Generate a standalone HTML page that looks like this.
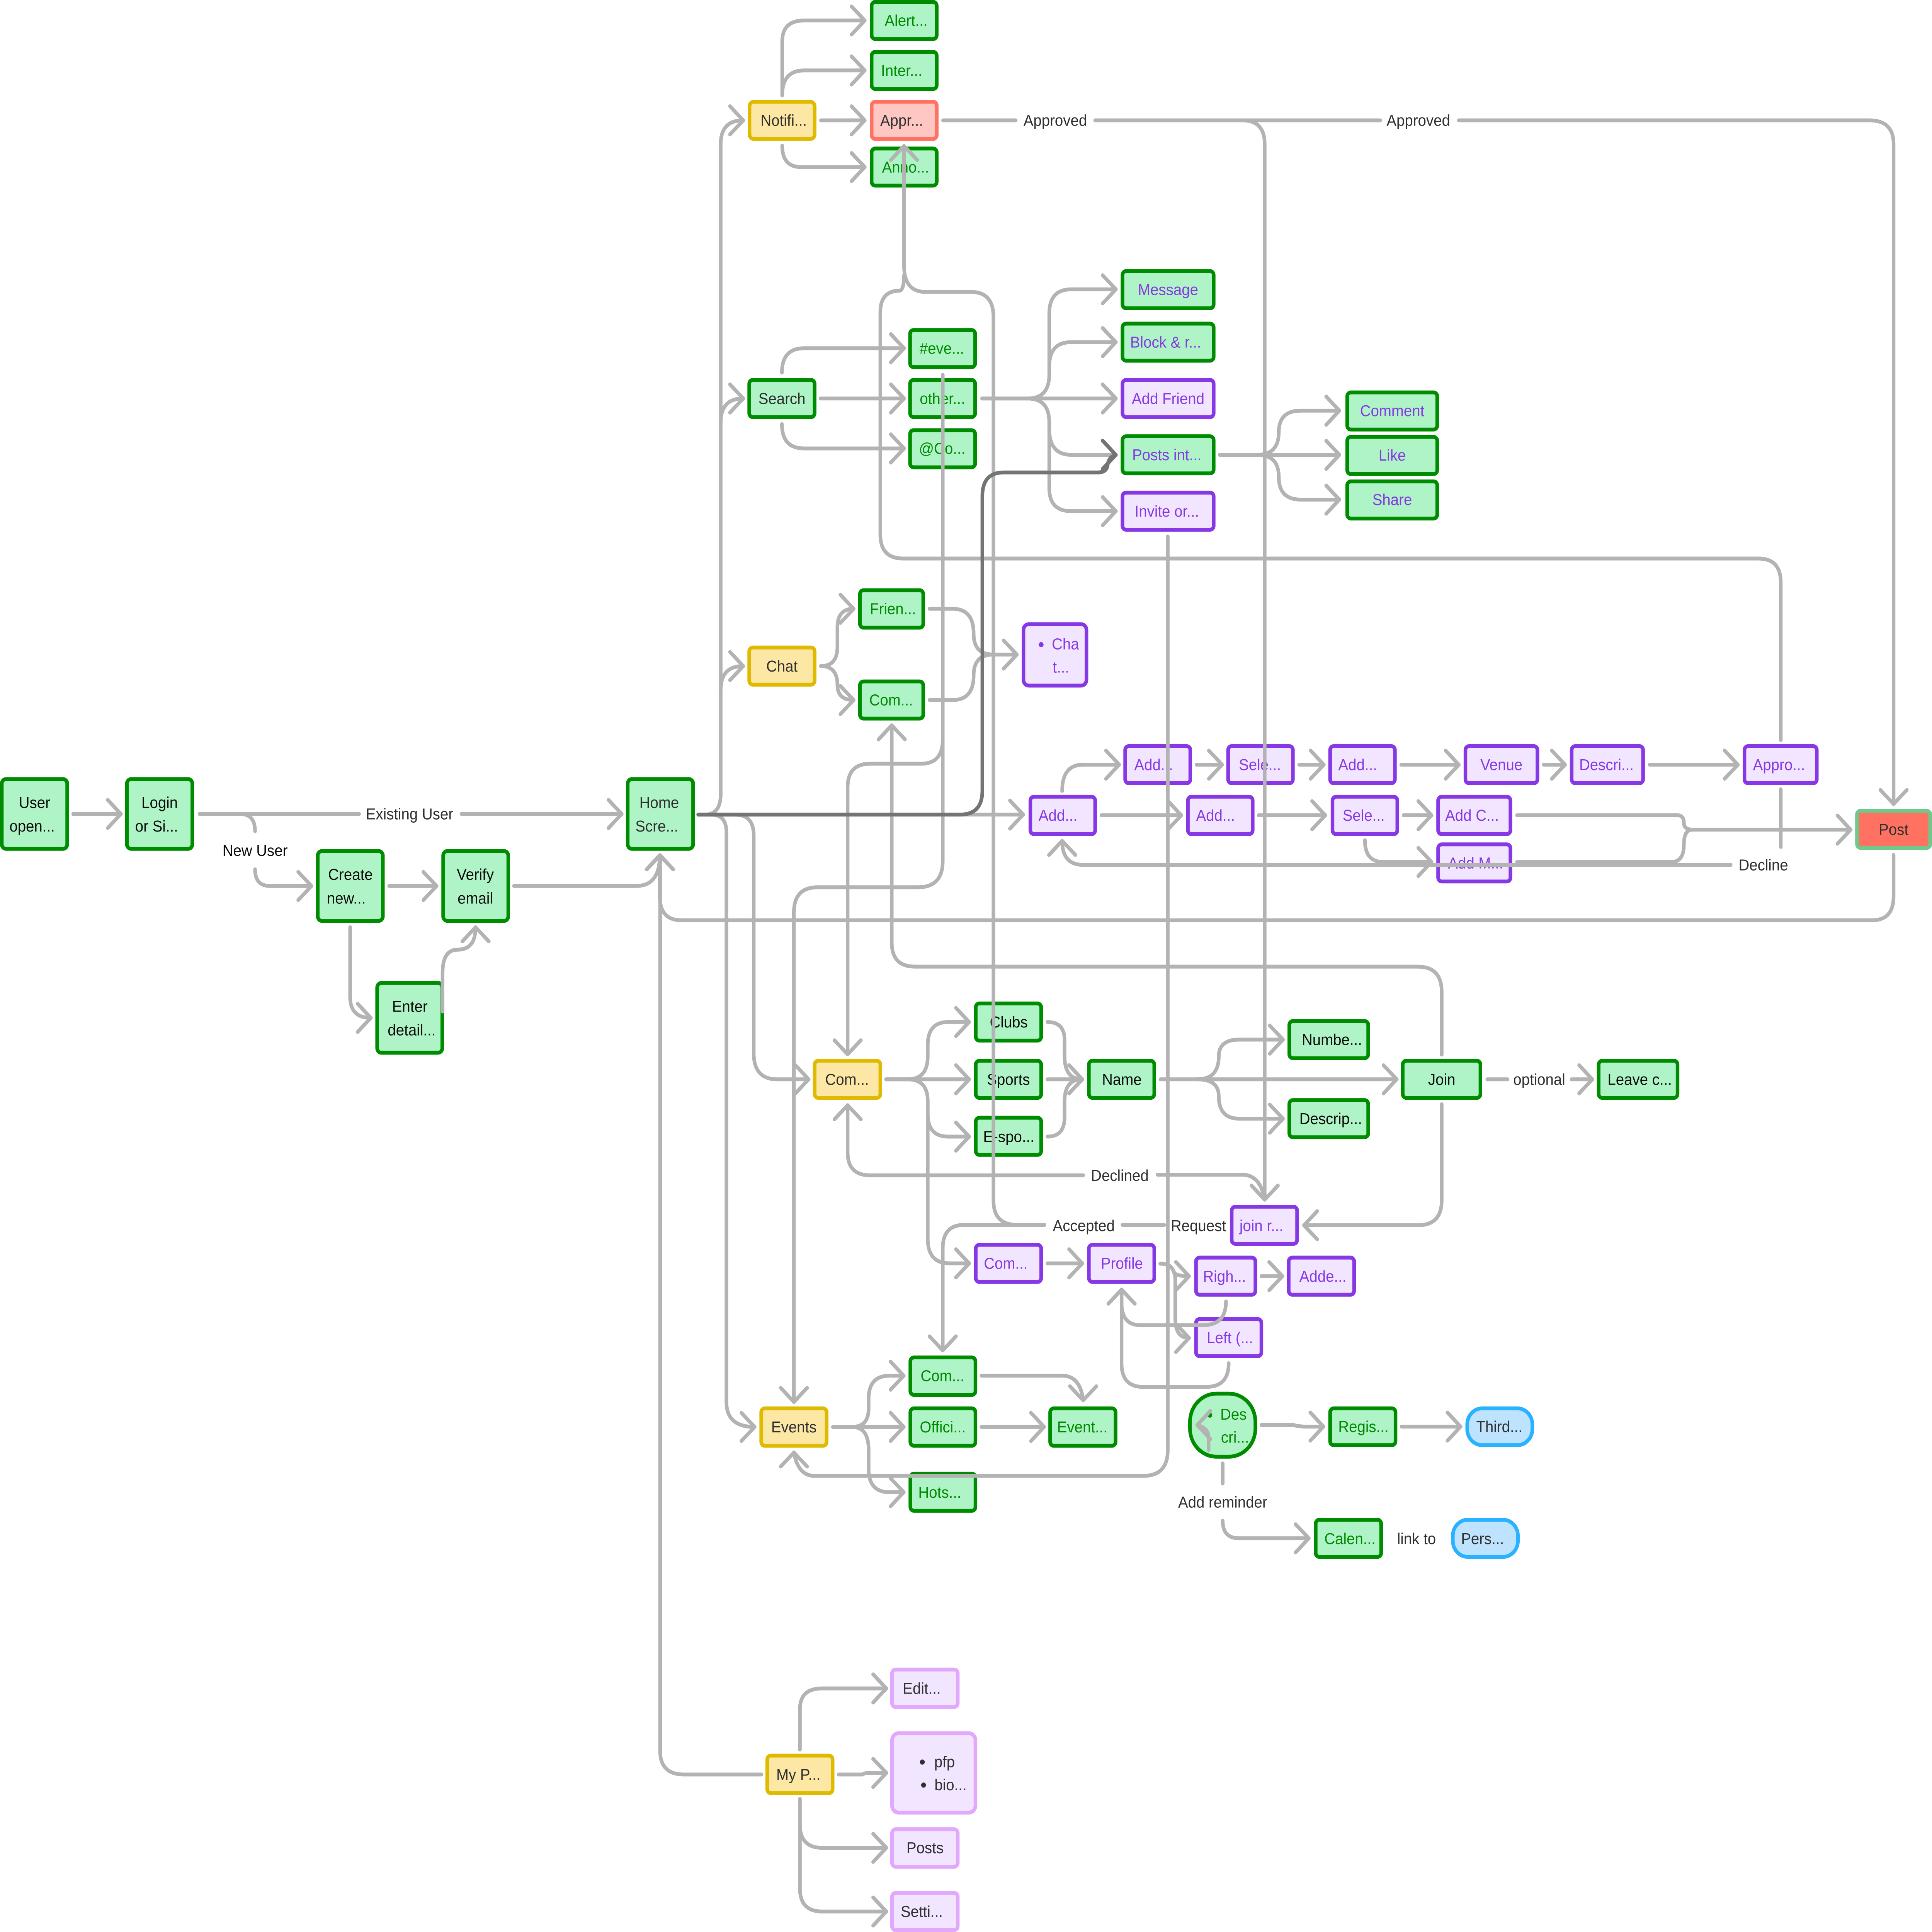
<!DOCTYPE html>
<html><head><meta charset="utf-8"><style>
html,body{margin:0;padding:0;background:#fff;width:100%;height:100%;overflow:hidden}
svg{display:block;width:100vw;height:100vh}
text{font-family:"Liberation Sans",sans-serif;font-size:49.5px;text-anchor:middle}
.t{fill:#2f2f2f}.k{fill:#0b0b0b}.gt{fill:#008a00}.pt{fill:#8638e5}
rect{stroke-width:12}
.g{fill:#aff4c6;stroke:#008c00}.y{fill:#fde7a4;stroke:#dfba00}.p{fill:#f1e5ff;stroke:#8638e5}.q{fill:#f1e5ff;stroke:#e2a8fd}
.r{fill:#ffc7c2;stroke:#ff7262}.b{fill:#bde3ff;stroke:#29b2ff}.o{fill:#ff7262;stroke:#6fc98a}
.c path{fill:none;stroke:#b3b3b3;stroke-width:12;stroke-linecap:round;stroke-linejoin:round}
.c path.mr{marker-end:url(#r)}.c path.md{marker-end:url(#d)}.c path.ml{marker-end:url(#l)}.c path.mu{marker-end:url(#u)}
</style></head><body>
<svg xmlns="http://www.w3.org/2000/svg" viewBox="0 0 6439 6036" preserveAspectRatio="none">
<defs>
<marker id="r" markerUnits="userSpaceOnUse" markerWidth="130" markerHeight="130" viewBox="-65 -65 130 130" refX="0" refY="0" orient="0"><path d="M-44,-44L0,0L-44,44" fill="none" stroke="#b3b3b3" stroke-width="12" stroke-linecap="round" stroke-linejoin="round"/></marker>
<marker id="d" markerUnits="userSpaceOnUse" markerWidth="130" markerHeight="130" viewBox="-65 -65 130 130" refX="0" refY="0" orient="90"><path d="M-44,-44L0,0L-44,44" fill="none" stroke="#b3b3b3" stroke-width="12" stroke-linecap="round" stroke-linejoin="round"/></marker>
<marker id="l" markerUnits="userSpaceOnUse" markerWidth="130" markerHeight="130" viewBox="-65 -65 130 130" refX="0" refY="0" orient="180"><path d="M-44,-44L0,0L-44,44" fill="none" stroke="#b3b3b3" stroke-width="12" stroke-linecap="round" stroke-linejoin="round"/></marker>
<marker id="u" markerUnits="userSpaceOnUse" markerWidth="130" markerHeight="130" viewBox="-65 -65 130 130" refX="0" refY="0" orient="270"><path d="M-44,-44L0,0L-44,44" fill="none" stroke="#b3b3b3" stroke-width="12" stroke-linecap="round" stroke-linejoin="round"/></marker>
<marker id="dk" markerUnits="userSpaceOnUse" markerWidth="130" markerHeight="130" viewBox="-65 -65 130 130" refX="0" refY="0" orient="0"><path d="M-44,-44L0,0L-44,44" fill="none" stroke="#727571" stroke-width="12" stroke-linecap="round" stroke-linejoin="round"/></marker>
</defs>
<rect x="0" y="0" width="6439" height="6036" style="fill:#fff;stroke:none"/>

<!-- nodes -->
<g>
<rect class="g" x="6" y="2434" width="218" height="218" rx="14"/>
<rect class="g" x="423" y="2434" width="218" height="218" rx="14"/>
<rect class="g" x="1059" y="2659" width="217" height="218" rx="14"/>
<rect class="g" x="1477" y="2659" width="217" height="218" rx="14"/>
<rect class="g" x="1257" y="3071" width="217" height="218" rx="14"/>
<rect class="g" x="2092" y="2434" width="218" height="218" rx="14"/>

<rect class="y" x="2498" y="318" width="217" height="116" rx="14"/>
<rect class="g" x="2905" y="6" width="217" height="116" rx="12"/>
<rect class="g" x="2905" y="162" width="217" height="116" rx="12"/>
<rect class="r" x="2905" y="318" width="217" height="116" rx="12"/>
<rect class="g" x="2905" y="464" width="217" height="116" rx="12"/>

<rect class="g" x="3741" y="847" width="304" height="116" rx="12"/>
<rect class="g" x="3741" y="1011" width="304" height="116" rx="12"/>
<rect class="p" x="3741" y="1187" width="304" height="116" rx="12"/>
<rect class="g" x="3741" y="1363" width="304" height="116" rx="12"/>
<rect class="p" x="3741" y="1539" width="304" height="116" rx="12"/>
<rect class="g" x="4490" y="1226" width="300" height="116" rx="12"/>
<rect class="g" x="4490" y="1365" width="300" height="116" rx="12"/>
<rect class="g" x="4490" y="1504" width="300" height="116" rx="12"/>

<rect class="g" x="2497" y="1187" width="218" height="116" rx="12"/>
<rect class="g" x="3033" y="1031" width="217" height="116" rx="12"/>
<rect class="g" x="3033" y="1187" width="217" height="116" rx="12"/>
<rect class="g" x="3033" y="1344" width="217" height="116" rx="12"/>

<rect class="y" x="2497" y="2023" width="218" height="116" rx="12"/>
<rect class="g" x="2866" y="1844" width="211" height="117" rx="12"/>
<rect class="g" x="2866" y="2129" width="211" height="116" rx="12"/>
<rect class="p" x="3411" y="1950" width="210" height="192" rx="18"/>

<rect class="p" x="3750" y="2331" width="217" height="116" rx="12"/>
<rect class="p" x="4093" y="2331" width="216" height="116" rx="12"/>
<rect class="p" x="4433" y="2331" width="216" height="116" rx="12"/>
<rect class="p" x="4884" y="2331" width="240" height="116" rx="12"/>
<rect class="p" x="5238" y="2331" width="238" height="116" rx="12"/>
<rect class="p" x="5814" y="2331" width="241" height="116" rx="12"/>
<rect class="p" x="3434" y="2489" width="216" height="117" rx="12"/>
<rect class="p" x="3959" y="2489" width="216" height="117" rx="12"/>
<rect class="p" x="4441" y="2489" width="216" height="117" rx="12"/>
<rect class="p" x="4793" y="2489" width="241" height="117" rx="12"/>
<rect class="p" x="4793" y="2638" width="241" height="116" rx="12"/>
<rect class="o" x="6189" y="2533" width="244" height="116" rx="12"/>

<rect class="y" x="2715" y="3314" width="219" height="116" rx="12"/>
<rect class="g" x="3252" y="3135" width="218" height="116" rx="12"/>
<rect class="g" x="3252" y="3314" width="218" height="116" rx="12"/>
<rect class="g" x="3252" y="3492" width="218" height="116" rx="12"/>
<rect class="g" x="3629" y="3314" width="218" height="116" rx="12"/>
<rect class="g" x="4297" y="3190" width="263" height="116" rx="12"/>
<rect class="g" x="4675" y="3314" width="259" height="116" rx="12"/>
<rect class="g" x="4297" y="3437" width="263" height="116" rx="12"/>
<rect class="g" x="5328" y="3314" width="263" height="116" rx="12"/>

<rect class="p" x="3252" y="3889" width="218" height="116" rx="12"/>
<rect class="p" x="3629" y="3889" width="218" height="116" rx="12"/>
<rect class="p" x="4105" y="3770" width="218" height="116" rx="12"/>
<rect class="p" x="3986" y="3929" width="198" height="116" rx="12"/>
<rect class="p" x="4295" y="3929" width="218" height="116" rx="12"/>
<rect class="p" x="3986" y="4121" width="218" height="116" rx="12"/>

<rect class="g" x="3034" y="4241" width="217" height="117" rx="12"/>
<rect class="g" x="3034" y="4400" width="217" height="117" rx="12"/>
<rect class="g" x="3034" y="4604" width="217" height="116" rx="12"/>
<rect class="y" x="2537" y="4400" width="218" height="117" rx="12"/>
<rect class="g" x="3500" y="4400" width="218" height="117" rx="12"/>

<rect class="g" x="3966" y="4354" width="218" height="197" rx="88"/>
<rect class="g" x="4433" y="4400" width="218" height="115" rx="12"/>
<rect class="b" x="4890" y="4400" width="217" height="115" rx="50"/>
<rect class="g" x="4385" y="4748" width="218" height="116" rx="12"/>
<rect class="b" x="4842" y="4748" width="217" height="116" rx="50"/>

<rect class="y" x="2557" y="5485" width="218" height="117" rx="12"/>
<rect class="q" x="2973" y="5216" width="219" height="117" rx="12"/>
<rect class="q" x="2973" y="5415" width="278" height="248" rx="22"/>
<rect class="q" x="2973" y="5715" width="219" height="117" rx="12"/>
<rect class="q" x="2973" y="5914" width="219" height="116" rx="12"/>
</g>

<!-- text -->
<g>
<text class="k" x="115" y="2524">User</text><text class="k" x="107" y="2598">open...</text>
<text class="k" x="532" y="2524">Login</text><text class="k" x="522" y="2598">or Si...</text>
<text class="k" x="1168" y="2749">Create</text><text class="k" x="1154" y="2823">new...</text>
<text class="k" x="1584" y="2749">Verify</text><text class="k" x="1584" y="2823">email</text>
<text class="k" x="1366" y="3161">Enter</text><text class="k" x="1372" y="3235">detail...</text>
<text class="t" x="2197" y="2524">Home</text><text class="t" x="2189" y="2598">Scre...</text>
<text class="t" x="1365" y="2560">Existing User</text>
<text class="k" x="850" y="2674">New User</text>

<text class="t" x="2612" y="393">Notifi...</text>
<text class="gt" x="3020" y="81">Alert...</text>
<text class="gt" x="3005" y="237">Inter...</text>
<text class="t" x="3005" y="393">Appr...</text>
<text class="gt" x="3018" y="539">Anno...</text>
<text class="t" x="3517" y="393">Approved</text>
<text class="t" x="4727" y="393">Approved</text>

<text class="pt" x="3893" y="922">Message</text>
<text class="pt" x="3885" y="1086">Block &amp; r...</text>
<text class="pt" x="3893" y="1262">Add Friend</text>
<text class="pt" x="3889" y="1438">Posts int...</text>
<text class="pt" x="3889" y="1614">Invite or...</text>
<text class="pt" x="4640" y="1300">Comment</text>
<text class="pt" x="4640" y="1439">Like</text>
<text class="pt" x="4640" y="1578">Share</text>

<text class="t" x="2606" y="1262">Search</text>
<text class="gt" x="3139" y="1105">#eve...</text>
<text class="gt" x="3141" y="1262">other...</text>
<text class="gt" x="3140" y="1418">@Co...</text>

<text class="t" x="2606" y="2098">Chat</text>
<text class="gt" x="2976" y="1919">Frien...</text>
<text class="gt" x="2970" y="2204">Com...</text>
<circle cx="3470" cy="2014" r="8" fill="#8638e5"/>
<text class="pt" x="3551" y="2029">Cha</text><text class="pt" x="3536" y="2101">t...</text>

<text class="pt" x="3845" y="2406">Add...</text>
<text class="pt" x="4199" y="2406">Sele...</text>
<text class="pt" x="4525" y="2406">Add...</text>
<text class="pt" x="5004" y="2406">Venue</text>
<text class="pt" x="5354" y="2406">Descri...</text>
<text class="pt" x="5929" y="2406">Appro...</text>
<text class="pt" x="3526" y="2564">Add...</text>
<text class="pt" x="4051" y="2564">Add...</text>
<text class="pt" x="4545" y="2564">Sele...</text>
<text class="pt" x="4906" y="2564">Add C...</text>
<text class="pt" x="4918" y="2713">Add M...</text>
<text class="t" x="6311" y="2608">Post</text>
<text class="t" x="5877" y="2719">Decline</text>

<text class="t" x="2823" y="3389">Com...</text>
<text class="k" x="3362" y="3210">Clubs</text>
<text class="k" x="3361" y="3389">Sports</text>
<text class="k" x="3362" y="3568">E-spo...</text>
<text class="k" x="3739" y="3389">Name</text>
<text class="k" x="4439" y="3265">Numbe...</text>
<text class="k" x="4805" y="3389">Join</text>
<text class="k" x="4435" y="3512">Descrip...</text>
<text class="k" x="5465" y="3389">Leave c...</text>
<text class="t" x="5130" y="3389">optional</text>
<text class="t" x="3732" y="3689">Declined</text>
<text class="t" x="3612" y="3846">Accepted</text>
<text class="t" x="3994" y="3846">Request</text>
<text class="pt" x="4204" y="3846">join r...</text>
<text class="pt" x="3352" y="3964">Com...</text>
<text class="pt" x="3739" y="3964">Profile</text>
<text class="pt" x="4081" y="4004">Righ...</text>
<text class="pt" x="4409" y="4004">Adde...</text>
<text class="pt" x="4099" y="4196">Left (...</text>

<text class="gt" x="3141" y="4315">Com...</text>
<text class="gt" x="3142" y="4475">Offici...</text>
<text class="gt" x="3132" y="4679">Hots...</text>
<text class="t" x="2646" y="4475">Events</text>
<text class="gt" x="3607" y="4475">Event...</text>

<circle cx="4032" cy="4421" r="8" fill="#008a00"/>
<text class="gt" x="4111" y="4435">Des</text><text class="gt" x="4116" y="4507">cri...</text>
<text class="gt" x="4544" y="4474">Regis...</text>
<text class="t" x="4997" y="4474">Third...</text>
<text class="t" x="4075" y="4710">Add reminder</text>
<text class="gt" x="4499" y="4824">Calen...</text>
<text class="t" x="4721" y="4824">link to</text>
<text class="t" x="4941" y="4824">Pers...</text>

<text class="t" x="2661" y="5561">My P...</text>
<text class="t" x="3072" y="5292">Edit...</text>
<circle cx="3074" cy="5505" r="8" fill="#2f2f2f"/><text class="t" x="3148" y="5521">pfp</text>
<circle cx="3078" cy="5577" r="8" fill="#2f2f2f"/><text class="t" x="3168" y="5593">bio...</text>
<text class="t" x="3083" y="5790">Posts</text>
<text class="t" x="3072" y="5989">Setti...</text>
</g>

<!-- connectors -->
<g class="c">
<path class="mr" d="M244,2543H403"/>
<path d="M665,2543H1197"/>
<path class="mr" d="M1538,2543H2072"/>
<path d="M665,2543H800Q850,2543 850,2597"/>
<path class="mr" d="M850,2716Q850,2768 900,2768H1038"/>
<path class="mr" d="M1297,2768H1455"/>
<path class="mu" d="M1713,2768H2120Q2199,2768 2199,2672"/>
<path class="mr" d="M1167,2897V3115Q1167,3180 1236,3180"/>
<path class="mu" d="M1475,3160V3040Q1475,2967 1525,2967Q1585,2967 1585,2897"/>

<path class="mr" d="M2327,2545H2350Q2402,2545 2402,2480V450Q2402,376 2477,376"/>
<path class="mr" d="M2402,1320Q2402,1245 2477,1245"/>
<path class="mr" d="M2402,2156Q2402,2081 2477,2081"/>
<path class="mr" d="M2327,2545H2450Q2512,2545 2512,2610V3290Q2512,3372 2590,3372H2695"/>
<path class="mr" d="M2327,2545H2370Q2421,2545 2421,2600V4380Q2421,4458 2515,4458"/>
<path class="mr" d="M2327,2545H3410"/>

<path class="mr" d="M2607,298V130Q2607,64 2680,64H2882"/>
<path class="mr" d="M2607,298Q2607,220 2680,220H2882"/>
<path class="mr" d="M2736,376H2882"/>
<path class="mr" d="M2607,455Q2607,522 2670,522H2882"/>
<path d="M3143,376H3385"/>
<path class="md" d="M3650,376H4140Q4215,376 4215,450V3748"/>
<path d="M4140,376H4600"/>
<path class="md" d="M4862,376H6230Q6311,376 6311,450V2512"/>

<path d="M5935,2312V1820Q5935,1745 5860,1745H3010Q2934,1745 2934,1670V975Q2934,908 3000,908Q3013,902 3013,860"/>
<path class="mu" d="M3481,3827H3390Q3311,3827 3311,3750V990Q3311,912 3235,912H3085Q3013,912 3013,830V456"/>
<path class="md" d="M3481,3827H3213Q3142,3827 3142,3900V4219"/>
<path d="M3741,3827H3880"/>
<path class="mu" d="M3610,3672H2900Q2825,3672 2825,3600V3453"/>
<path class="md" d="M3858,3670H4140Q4200,3670 4215,3748"/>
<path class="mu" d="M3892,1676V4530Q3892,4611 3810,4611H2715Q2660,4611 2646,4538"/>
<path class="md" d="M3142,1171V2310Q3142,2386 3070,2386H2900Q2825,2386 2825,2460V3294"/>
<path class="md" d="M3142,1171V2690Q3142,2772 3060,2772H2725Q2646,2772 2646,2850V4380"/>

<path class="mr" d="M2606,1164Q2606,1088 2680,1088H3013"/>
<path class="mr" d="M2735,1245H3013"/>
<path class="mr" d="M2606,1325Q2606,1401 2680,1401H3013"/>
<path class="mr" d="M3273,1245H3425Q3497,1245 3497,1170V980Q3497,904 3570,904H3719"/>
<path class="mr" d="M3497,1145Q3497,1069 3570,1069H3719"/>
<path class="mr" d="M3273,1245H3719"/>
<path class="mr" d="M3425,1245Q3497,1245 3497,1320V1340Q3497,1421 3570,1421H3719"/>
<path class="mr" d="M3497,1320V1525Q3497,1597 3570,1597H3719"/>
<path class="mr" d="M4065,1421H4190Q4262,1421 4262,1350Q4262,1283 4335,1283H4464"/>
<path class="mr" d="M4065,1421H4464"/>
<path class="mr" d="M4190,1421Q4262,1421 4262,1490Q4262,1561 4335,1561H4464"/>

<path class="mr" d="M2736,2081Q2791,2081 2791,2020V1960Q2791,1902 2845,1902"/>
<path class="mr" d="M2736,2081Q2791,2081 2791,2140Q2791,2187 2845,2187"/>
<path class="mr" d="M3098,1902H3175Q3245,1902 3245,1980Q3245,2045 3310,2045H3389"/>
<path d="M3098,2187H3175Q3245,2187 3245,2110Q3245,2045 3310,2045"/>

<path class="mu" d="M5768,2702H3610Q3540,2702 3540,2627"/>
<path d="M5935,2466V2646"/>
<path class="mr" d="M3540,2471Q3540,2389 3610,2389H3730"/>
<path class="mr" d="M3988,2389H4073"/>
<path class="mr" d="M4330,2389H4412"/>
<path class="mr" d="M4670,2389H4862"/>
<path class="mr" d="M5145,2389H5216"/>
<path class="mr" d="M5498,2389H5792"/>
<path class="mr" d="M3671,2547H3937"/>
<path class="mr" d="M4195,2547H4417"/>
<path class="mr" d="M4678,2547H4771"/>
<path class="mr" d="M5056,2547H5590Q5612,2547 5612,2570Q5612,2592 5640,2592H6168"/>
<path class="mr" d="M4549,2625Q4549,2693 4610,2693H4771"/>
<path d="M5056,2693H5570Q5612,2693 5612,2640Q5612,2592 5640,2592"/>
<path class="mu" d="M6311,2671V2800Q6311,2875 6240,2875H2270Q2199,2875 2199,2800V2672"/>
<path class="mu" d="M2538,5544H2280Q2200,5544 2200,5470V2672"/>

<path class="mr" d="M2666,5466V5340Q2666,5275 2740,5275H2954"/>
<path class="mr" d="M2795,5544H2875Q2880,5539 2900,5539H2954"/>
<path class="mr" d="M2666,5620V5700Q2666,5773 2740,5773H2954"/>
<path class="mr" d="M2666,5700V5900Q2666,5972 2740,5972H2954"/>

<path class="mr" d="M2953,3372H3025Q3092,3372 3092,3300V3265Q3092,3193 3160,3193H3230"/>
<path class="mr" d="M2953,3372H3230"/>
<path class="mr" d="M3025,3372Q3092,3372 3092,3440V3480Q3092,3551 3160,3551H3230"/>
<path class="mr" d="M3092,3440V3870Q3092,3947 3165,3947H3230"/>
<path class="mr" d="M3491,3193Q3548,3193 3548,3250V3300Q3548,3372 3607,3372"/>
<path class="mr" d="M3491,3372H3607"/>
<path class="mr" d="M3491,3551Q3548,3551 3548,3490V3440Q3548,3372 3607,3372"/>
<path class="mr" d="M3491,3947H3607"/>
<path class="mr" d="M3868,3372H4655"/>
<path class="mr" d="M3990,3372Q4062,3372 4062,3300Q4062,3248 4130,3248H4276"/>
<path class="mr" d="M3990,3372Q4062,3372 4062,3425Q4062,3495 4130,3495H4276"/>
<path d="M4957,3372H5024"/>
<path class="mr" d="M5238,3372H5307"/>
<path class="mu" d="M4805,3295V3100Q4805,3020 4725,3020H3050Q2972,3020 2972,2945V2266"/>
<path class="ml" d="M4805,3450V3750Q4805,3828 4725,3828H4346"/>

<path class="mr" d="M3867,3948Q3905,3948 3912,3975Q3920,3987 3963,3987"/>
<path class="mr" d="M3867,3948Q3917,3948 3917,4000V4120Q3917,4180 3963,4180"/>
<path class="mr" d="M4204,3987H4274"/>
<path class="mu" d="M4086,4066Q4086,4140 4010,4140H3800Q3738,4140 3738,4070V4029"/>
<path class="mu" d="M4095,4259Q4095,4333 4020,4333H3810Q3738,4333 3738,4260V4029"/>
<path class="ml" d="M4028,4530V4490Q4028,4462 3990,4452"/>
<path class="mr" d="M4204,4452H4310Q4330,4457 4350,4457H4411"/>
<path class="mr" d="M4671,4457H4868"/>
<path d="M4075,4572V4635"/>
<path class="mr" d="M4075,4751Q4075,4806 4130,4806H4362"/>

<path class="md" d="M3271,4298H3540Q3600,4298 3610,4375"/>
<path class="mr" d="M3271,4458H3480"/>
<path class="mr" d="M2776,4458H2840Q2895,4458 2895,4400V4370Q2895,4298 2965,4298H3012"/>
<path class="mr" d="M2776,4458H3012"/>
<path class="mr" d="M2840,4458Q2895,4458 2895,4530V4590Q2895,4662 2965,4662H3012"/>

<path style="stroke:#727571;marker-end:url(#dk)" d="M2327,2545H3200Q3274,2545 3274,2470V1550Q3274,1476 3345,1476H3660Q3690,1476 3692,1450Q3695,1428 3719,1421"/>
</g>
</svg>
</body></html>
